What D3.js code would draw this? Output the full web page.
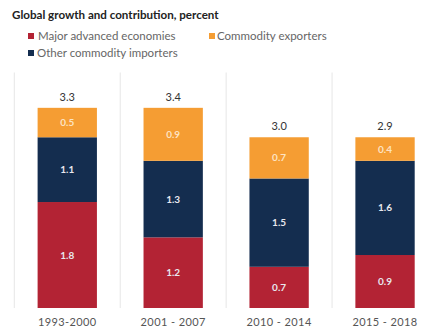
<!DOCTYPE html>
<html>
<head>
<meta charset="utf-8">
<script src="https://cdn.jsdelivr.net/npm/d3@7"></script>
<style>
  html, body { margin: 0; padding: 0; background: #fff; }
  svg { display: block; font-family: Lato, "Open Sans", sans-serif; }
</style>
</head>
<body>
<svg id="chart" width="427" height="332"></svg>
<script>
// Periods on the x axis
const periods = ["1993-2000", "2001 - 2007", "2010 - 2014", "2015 - 2018"];
// Contributions to global growth, percentage points
const majorAdvanced = [1.8, 1.2, 0.7, 0.9];
const otherImporters = [1.1, 1.3, 1.5, 1.6];
const commodityExporters = [0.5, 0.9, 0.7, 0.4];
// Global growth, percent
const totals = [3.3, 3.4, 3.0, 2.9];

const seriesNames = ["Major advanced economies", "Other commodity importers", "Commodity exporters"];
const seriesKeys = ["major", "other", "exporters"];
const colors = { major: "#b32334", other: "#142d4f", exporters: "#f59d33" };

const rows = periods.map((p, i) => ({
  period: p,
  major: majorAdvanced[i],
  other: otherImporters[i],
  exporters: commodityExporters[i],
  total: totals[i]
}));

const svg = d3.select("#chart");

const x = d3.scaleBand()
  .domain(periods)
  .range([14.3, 438])
  .paddingInner(0.44)
  .paddingOuter(0.22);

const y = d3.scaleLinear().domain([0, 4]).range([308, 72.5]);

// Title
svg.append("text")
  .attr("x", 12).attr("y", 19)
  .attr("font-size", 11.6).attr("font-weight", 700)
  .attr("fill", "#222")
  .text("Global growth and contribution, percent");

// Legend
const legendItems = [
  { key: "major", name: seriesNames[0], sx: 28, tx: 38, y: 36 },
  { key: "exporters", name: seriesNames[2], sx: 209, tx: 217, y: 36 },
  { key: "other", name: seriesNames[1], sx: 28, tx: 37, y: 53 }
];
const lg = svg.append("g").selectAll("g").data(legendItems).join("g");
lg.append("rect")
  .attr("x", d => d.sx).attr("y", d => d.y - 3)
  .attr("width", 6).attr("height", 6)
  .attr("fill", d => colors[d.key]);
lg.append("text")
  .attr("x", d => d.tx).attr("y", d => d.y + 4)
  .attr("font-size", 11.5).attr("fill", "#666")
  .text(d => d.name);

// Vertical separators between periods
const step = x.step();
const seps = periods.map(p => x(p) - step * x.paddingInner() / 2);
svg.append("g").selectAll("line").data(seps).join("line")
  .attr("x1", d => d).attr("x2", d => d)
  .attr("y1", y(4)).attr("y2", y(0))
  .attr("stroke", "#e6e6e6").attr("stroke-width", 1);

// Stacked bars
const stack = d3.stack().keys(seriesKeys);
const layers = stack(rows);

const layerG = svg.append("g").selectAll("g").data(layers).join("g")
  .attr("fill", d => colors[d.key]);

layerG.selectAll("rect").data(d => d).join("rect")
  .attr("x", d => x(d.data.period))
  .attr("width", x.bandwidth())
  .attr("y", d => y(d[1]))
  .attr("height", d => y(d[0]) - y(d[1]));

// Segment value labels
layerG.selectAll("text").data(d => d.map(v => ({ v, key: d.key }))).join("text")
  .attr("x", d => x(d.v.data.period) + x.bandwidth() / 2)
  .attr("y", d => (y(d.v[0]) + y(d.v[1])) / 2 + 3.5)
  .attr("text-anchor", "middle")
  .attr("font-size", 10).attr("font-weight", 700)
  .attr("fill", d => d.key === "exporters" ? "#fde3c2" : "#e8e8ee")
  .text(d => d.v.data[d.key].toFixed(1));

// Totals above bars
const topLayer = layers[layers.length - 1];
svg.append("g").selectAll("text").data(topLayer).join("text")
  .attr("x", d => x(d.data.period) + x.bandwidth() / 2)
  .attr("y", d => y(d[1]) - 7)
  .attr("text-anchor", "middle")
  .attr("font-size", 11).attr("fill", "#333")
  .text(d => d.data.total.toFixed(1));

// Period labels
svg.append("g").selectAll("text").data(periods).join("text")
  .attr("x", d => x(d) + x.bandwidth() / 2)
  .attr("y", 325.5)
  .attr("text-anchor", "middle")
  .attr("font-size", 11).attr("fill", "#555")
  .attr("letter-spacing", 0.4)
  .text(d => d);
</script>
</body>
</html>
